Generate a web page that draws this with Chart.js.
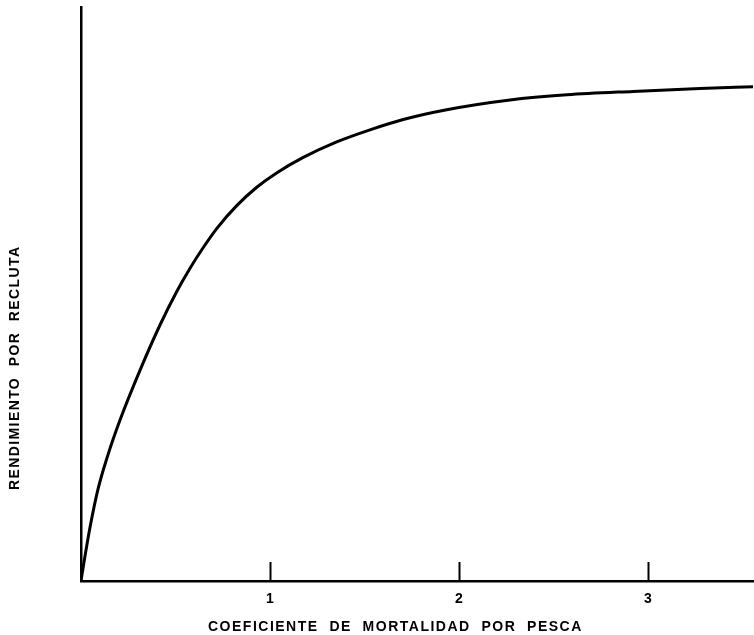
<!DOCTYPE html>
<html>
<head>
<meta charset="utf-8">
<script src="https://cdn.jsdelivr.net/npm/chart.js@4/dist/chart.umd.min.js"></script>
<style>
  html, body { margin: 0; padding: 0; background: #fff; }
</style>
</head>
<body>
<canvas id="chart" width="754" height="635"></canvas>
<script>
// values
var mortality = [0, 0.016, 0.048, 0.09, 0.138, 0.206, 0.312, 0.418, 0.506, 0.577, 0.647, 0.718, 0.824, 0.93, 1.035, 1.176, 1.353, 1.529, 1.705, 1.935, 2.27, 2.571, 2.921, 3.275, 3.556];
var yieldPerRecruit = [0, 0.033, 0.094, 0.16, 0.215, 0.28, 0.367, 0.446, 0.504, 0.545, 0.581, 0.614, 0.654, 0.686, 0.711, 0.738, 0.765, 0.786, 0.804, 0.821, 0.838, 0.847, 0.853, 0.858, 0.861];
var tickValues = [1, 2, 3];
var xTitle = 'COEFICIENTE  DE  MORTALIDAD  POR  PESCA';
var yTitle = 'RENDIMIENTO  POR  RECLUTA';

var FONT = '"Liberation Sans", Arial, sans-serif';

var points = mortality.map(function (x, i) {
  return { x: x, y: yieldPerRecruit[i] };
});

// tick marks point up into the plot and the titles are spaced out lettering,
// so those are drawn here
var extras = {
  id: 'extras',
  afterDraw: function (chart) {
    var ctx = chart.ctx;
    var xs = chart.scales.x;
    var area = chart.chartArea;
    ctx.save();
    ctx.strokeStyle = '#000';
    ctx.lineWidth = 2;
    tickValues.forEach(function (v) {
      var px = Math.round(xs.getPixelForValue(v)) + 0.5;
      ctx.beginPath();
      ctx.moveTo(px, area.bottom);
      ctx.lineTo(px, area.bottom - 19);
      ctx.stroke();
    });

    ctx.fillStyle = '#000';
    ctx.font = 'bold 14px ' + FONT;
    ctx.textAlign = 'left';
    ctx.textBaseline = 'middle';
    ctx.letterSpacing = '1.5px';
    ctx.fillText(xTitle, 208, 627);

    ctx.letterSpacing = '1.4px';
    ctx.translate(15, 490);
    ctx.rotate(-Math.PI / 2);
    ctx.fillText(yTitle, 0, 0);
    ctx.restore();
  }
};

new Chart(document.getElementById('chart'), {
  type: 'scatter',
  data: {
    datasets: [{
      data: points,
      showLine: true,
      borderColor: '#000',
      borderWidth: 3,
      pointRadius: 0,
      cubicInterpolationMode: 'monotone'
    }]
  },
  options: {
    responsive: false,
    animation: false,
    layout: { padding: { top: 7, left: 0, right: 0, bottom: 0 } },
    plugins: { legend: { display: false }, tooltip: { enabled: false } },
    scales: {
      x: {
        type: 'linear',
        min: 0,
        max: 3.561,
        grid: { display: false, drawTicks: false },
        border: { display: true, color: '#000', width: 2.5 },
        ticks: {
          stepSize: 1,
          padding: 10,
          color: '#000',
          font: { family: FONT, size: 14, weight: 'bold' },
          callback: function (v) {
            return tickValues.indexOf(v) >= 0 ? String(v) : '';
          }
        },
        afterFit: function (scale) {
          scale.height = 54;
          scale.paddingLeft = 0;
          scale.paddingRight = 0;
        }
      },
      y: {
        min: 0,
        max: 1,
        grid: { display: false, drawTicks: false },
        border: { display: true, color: '#000', width: 2.5 },
        ticks: { display: false },
        afterFit: function (scale) {
          scale.width = 81;
          scale.paddingTop = 0;
          scale.paddingBottom = 0;
        }
      }
    }
  },
  plugins: [extras]
});
</script>
</body>
</html>
